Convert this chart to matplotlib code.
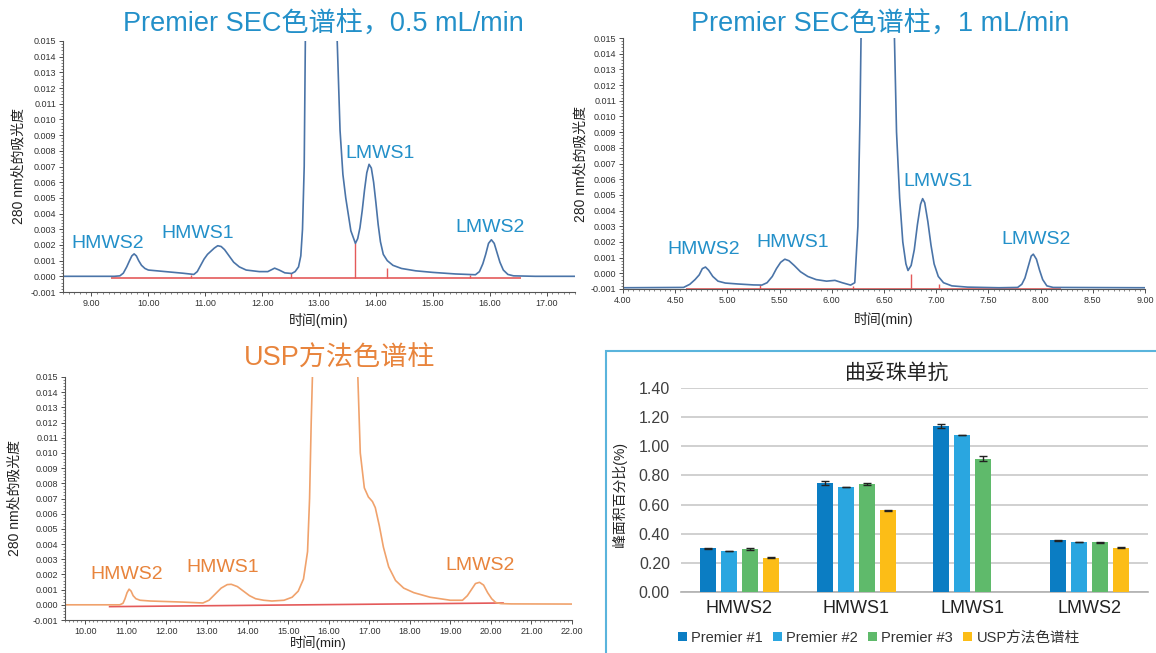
import matplotlib
matplotlib.use('Agg')
import matplotlib.pyplot as plt
import numpy as np
from matplotlib.ticker import MultipleLocator, FormatStrFormatter
from matplotlib.patches import Rectangle

plt.rcParams['font.family'] = ['Liberation Sans', 'Noto Sans CJK SC', 'DejaVu Sans']
plt.rcParams['axes.unicode_minus'] = False

# Premier SEC, 0.5 mL/min trace (time in min, absorbance in AU)
t_05 = [8.50, 9.00, 9.40, 9.50, 9.56, 9.62, 9.67, 9.71, 9.75, 9.79, 9.83, 9.88, 9.94, 10.00,
        10.30, 10.60, 10.80, 10.86, 10.92, 10.98, 11.04, 11.10, 11.16, 11.22, 11.28, 11.34,
        11.42, 11.50, 11.60, 11.72, 11.95, 12.10, 12.22, 12.30, 12.40, 12.52, 12.58, 12.64,
        12.68, 12.71, 12.74, 12.76, 12.79, 13.03, 13.28, 13.32, 13.37, 13.42, 13.47, 13.56,
        13.64, 13.68, 13.72, 13.76, 13.80, 13.84, 13.88, 13.92, 13.96, 14.00, 14.04, 14.08,
        14.13, 14.20, 14.30, 14.45, 14.70, 15.00, 15.40, 15.75, 15.82, 15.88, 15.93, 15.98,
        16.03, 16.08, 16.13, 16.18, 16.24, 16.32, 16.42, 16.80, 17.50]
a_05 = [0.0, 0.0, 0.0, 0.00003, 0.0002, 0.0006, 0.0010, 0.0013, 0.00143, 0.0013, 0.0010,
        0.0007, 0.0005, 0.0004, 0.0003, 0.0002, 0.00012, 0.0003, 0.0007, 0.0011, 0.0014,
        0.0016, 0.0018, 0.00195, 0.0019, 0.0017, 0.0013, 0.0009, 0.0006, 0.0004, 0.0003,
        0.0003, 0.00052, 0.0004, 0.00022, 0.00018, 0.0003, 0.0006, 0.0013, 0.003, 0.007,
        0.015, 0.03, 0.06, 0.03, 0.015, 0.0093, 0.0065, 0.005, 0.0029, 0.0021, 0.0024,
        0.0031, 0.0042, 0.0055, 0.0066, 0.00714, 0.0069, 0.0060, 0.0047, 0.0033, 0.0022,
        0.0014, 0.0010, 0.0007, 0.0005, 0.00035, 0.00025, 0.00015, 0.0001, 0.0003, 0.0008,
        0.0014, 0.0021, 0.00233, 0.0021, 0.0015, 0.0009, 0.0004, 0.00012, 0.00003, 0.0, 0.0]
base_05 = [9.35, 16.55]
drop_05_t = [10.75, 12.50, 13.63, 14.20, 15.65]
drop_05_a = [0.0001, 0.0002, 0.0021, 0.0005, 0.0001]

# Premier SEC, 1 mL/min trace
t_10 = [4.00, 4.58, 4.64, 4.69, 4.73, 4.76, 4.79, 4.82, 4.86, 4.91, 4.98, 5.10, 5.25, 5.33,
        5.38, 5.43, 5.47, 5.51, 5.55, 5.59, 5.64, 5.70, 5.77, 5.85, 5.95, 6.03, 6.10, 6.18,
        6.22, 6.25, 6.27, 6.28, 6.30, 6.45, 6.58, 6.60, 6.62, 6.65, 6.68, 6.71, 6.73, 6.76,
        6.79, 6.82, 6.85, 6.87, 6.89, 6.92, 6.95, 6.98, 7.02, 7.07, 7.15, 7.30, 7.60, 7.78,
        7.82, 7.85, 7.88, 7.91, 7.93, 7.96, 7.99, 8.02, 8.06, 8.12, 9.00]
a_10 = [-0.00092, -0.0009, -0.0007, -0.0004, -0.0001, 0.0003, 0.0004, 0.0002, -0.0002,
        -0.0005, -0.00062, -0.00068, -0.00074, -0.00075, -0.0006, -0.0002, 0.0003, 0.0007,
        0.0009, 0.0008, 0.0005, 0.0001, -0.0002, -0.0004, -0.0005, -0.00045, -0.0006,
        -0.00075, -0.0006, 0.003, 0.010, 0.015, 0.025, 0.06, 0.025, 0.015, 0.009, 0.0048,
        0.002, 0.0006, 0.00018, 0.0005, 0.0015, 0.0031, 0.0044, 0.00476, 0.0045, 0.0033,
        0.0018, 0.0006, -0.0002, -0.0006, -0.0008, -0.00088, -0.00092, -0.0009, -0.0007,
        -0.0003, 0.0004, 0.0011, 0.00122, 0.0009, 0.0002, -0.0004, -0.0008, -0.0009, -0.00092]
base_10 = [4.60, 8.20]
drop_10_t = [5.31, 6.20, 6.76, 7.03]
drop_10_a = [-0.00075, -0.0008, -0.00003, -0.0007]

# USP column trace
t_usp = [9.50, 10.85, 10.93, 10.98, 11.03, 11.08, 11.13, 11.18, 11.25, 11.35, 11.60, 12.40,
         12.90, 13.05, 13.20, 13.35, 13.50, 13.60, 13.75, 13.90, 14.05, 14.20, 14.40, 14.60,
         14.90, 15.10, 15.25, 15.38, 15.48, 15.53, 15.57, 15.60, 15.65, 16.10, 16.65, 16.72,
         16.78, 16.88, 16.98, 17.08, 17.15, 17.25, 17.35, 17.48, 17.65, 17.85, 18.10, 18.50,
         19.00, 19.30, 19.42, 19.52, 19.62, 19.72, 19.82, 19.92, 20.02, 20.12, 20.25, 20.50,
         22.00]
a_usp = [0.0, 0.0, 0.0001, 0.0004, 0.0008, 0.00103, 0.0009, 0.0006, 0.0004, 0.0003, 0.00025,
         0.00018, 0.00012, 0.0003, 0.0007, 0.0011, 0.00133, 0.00135, 0.0012, 0.0009, 0.0006,
         0.0004, 0.0003, 0.00025, 0.0003, 0.0005, 0.0009, 0.0017, 0.0035, 0.007, 0.012, 0.015,
         0.03, 0.06, 0.03, 0.015, 0.010, 0.0077, 0.0071, 0.0068, 0.0064, 0.0052, 0.0038,
         0.0025, 0.0016, 0.0011, 0.0008, 0.0005, 0.0003, 0.0003, 0.0006, 0.0010, 0.0014,
         0.00148, 0.0013, 0.0008, 0.0004, 0.00015, 0.00008, 0.00006, 0.00005]
base_usp_t = [10.60, 20.30]
base_usp_a = [-0.00012, 0.00012]

# peak area percentages (%)
groups = ['HMWS2', 'HMWS1', 'LMWS1', 'LMWS2']
series = ['Premier #1', 'Premier #2', 'Premier #3', 'USP方法色谱柱']
p1 = [0.30, 0.75, 1.14, 0.355]
p2 = [0.28, 0.72, 1.08, 0.34]
p3 = [0.295, 0.74, 0.915, 0.34]
usp = [0.235, 0.56, np.nan, 0.305]
p1_err = [0.005, 0.015, 0.012, 0.005]
p2_err = [0.0, 0.0, 0.0, 0.0]
p3_err = [0.005, 0.008, 0.015, 0.005]
usp_err = [0.003, 0.004, 0.0, 0.003]

W, H = 1156, 653
fig = plt.figure(figsize=(W / 100, H / 100), dpi=100)


def px_axes(l, t, r, b):
    return fig.add_axes([l / W, 1 - b / H, (r - l) / W, (b - t) / H])


def chrom_style(ax, xlim, xmaj, xmin):
    ax.set_ylim(-0.001, 0.015)
    ax.set_xlim(*xlim)
    ax.yaxis.set_major_locator(MultipleLocator(0.001))
    ax.yaxis.set_minor_locator(MultipleLocator(0.0002))
    ax.yaxis.set_major_formatter(FormatStrFormatter('%.3f'))
    ax.xaxis.set_major_locator(MultipleLocator(xmaj))
    ax.xaxis.set_minor_locator(MultipleLocator(xmin))
    ax.xaxis.set_major_formatter(FormatStrFormatter('%.2f'))
    for s in ['top', 'right']:
        ax.spines[s].set_visible(False)
    for s in ['left', 'bottom']:
        ax.spines[s].set_color('#555555')
        ax.spines[s].set_linewidth(0.8)
    ax.tick_params(which='major', length=3, width=0.6, labelsize=6.5, colors='#333333', pad=2)
    ax.tick_params(which='minor', length=1.5, width=0.5, colors='#555555')
    ax.set_ylabel('280 nm处的吸光度', fontsize=10, color='#222222')
    ax.set_xlabel('时间(min)', fontsize=10, color='#222222')


blue_txt = '#2390c9'
blue_line = '#4a74a8'
orange_txt = '#e8843c'
orange_line = '#f0a26c'
red = '#e45a5a'

# ---- top left ----
ax1 = px_axes(63, 41, 575, 292)
chrom_style(ax1, (8.5, 17.5), 1.0, 0.1)
ax1.hlines(-0.00012, base_05[0], base_05[1], color=red, lw=1.2)
ax1.vlines(drop_05_t, -0.00012, drop_05_a, color=red, lw=1.0)
ax1.plot(t_05, a_05, color=blue_line, lw=1.2)
ax1.yaxis.set_label_coords(-0.074, 0.5)
ax1.xaxis.set_label_coords(0.5, -0.085)
lab_05 = [('HMWS2', 9.29, 0.0021), ('HMWS1', 10.87, 0.00276), ('LMWS1', 14.08, 0.00786), ('LMWS2', 16.0, 0.0031)]
for name, x, y in lab_05:
    ax1.text(x, y, name, color=blue_txt, fontsize=14, ha='center', va='center')
fig.text(323 / W, 1 - 25 / H, 'Premier SEC色谱柱，0.5 mL/min', color=blue_txt, fontsize=19.5,
         ha='center', va='center')

# ---- top right ----
ax2 = px_axes(623, 38, 1145, 289)
chrom_style(ax2, (4.0, 9.0), 0.5, 0.05)
ax2.hlines(-0.001, base_10[0], base_10[1], color=red, lw=1.2)
ax2.vlines(drop_10_t, -0.001, drop_10_a, color=red, lw=1.0)
ax2.plot(t_10, a_10, color=blue_line, lw=1.2)
ax2.yaxis.set_label_coords(-0.067, 0.5)
ax2.xaxis.set_label_coords(0.5, -0.09)
lab_10 = [('HMWS2', 4.77, 0.0015), ('HMWS1', 5.63, 0.00195), ('LMWS1', 7.02, 0.00586), ('LMWS2', 7.96, 0.00214)]
for name, x, y in lab_10:
    ax2.text(x, y, name, color=blue_txt, fontsize=14, ha='center', va='center')
fig.text(880 / W, 1 - 25 / H, 'Premier SEC色谱柱，1 mL/min', color=blue_txt, fontsize=19.5,
         ha='center', va='center')

# ---- bottom left ----
ax3 = px_axes(65, 377, 572, 620)
chrom_style(ax3, (9.5, 22.0), 1.0, 0.1)
ax3.plot(base_usp_t, base_usp_a, color=red, lw=1.2)
ax3.plot(t_usp, a_usp, color=orange_line, lw=1.2)
ax3.yaxis.set_label_coords(-0.085, 0.5)
ax3.xaxis.set_label_coords(0.5, -0.062)
ax3.xaxis.label.set_fontsize(9.5)
lab_usp = [('HMWS2', 11.02, 0.00197), ('HMWS1', 13.39, 0.00248), ('LMWS2', 19.74, 0.0026)]
for name, x, y in lab_usp:
    ax3.text(x, y, name, color=orange_txt, fontsize=14, ha='center', va='center')
fig.text(340 / W, 1 - 359 / H, 'USP方法色谱柱', color=orange_txt, fontsize=19.5,
         ha='center', va='center')

# ---- bar chart panel ----
fig.add_artist(Rectangle((606 / W, -0.02), 0.5, 1 - 351 / H + 0.02, transform=fig.transFigure,
                         fill=False, edgecolor='#5ab4dc', lw=1.5))
ax4 = px_axes(681, 388, 1148, 592)
x = np.arange(len(groups))
colors = ['#0b7dc3', '#2aa6e0', '#5fba6b', '#fcbd17']
vals = [p1, p2, p3, usp]
errs = [p1_err, p2_err, p3_err, usp_err]
off = 0.18
for i, (v, e, c, lab) in enumerate(zip(vals, errs, colors, series)):
    xs = x + (i - 1.5) * off
    ax4.bar(xs, v, width=0.138, color=c, label=lab, zorder=3)
    ax4.errorbar(xs, v, yerr=e, fmt='none', ecolor='#222222', elinewidth=1, capsize=3, zorder=4)
ax4.set_xlim(-0.5, 3.5)
ax4.set_ylim(0, 1.4)
ax4.set_yticks(np.arange(0, 1.41, 0.2))
ax4.yaxis.set_major_formatter(FormatStrFormatter('%.2f'))
ax4.set_xticks(x)
ax4.set_xticklabels(groups, fontsize=13, color='#222222')
ax4.tick_params(axis='y', labelsize=11.5, colors='#404040', length=0, pad=8)
ax4.tick_params(axis='x', length=0, pad=6)
ax4.yaxis.grid(True, color='#c8c8c8', lw=1.2, zorder=0)
for s in ['top', 'right', 'left']:
    ax4.spines[s].set_visible(False)
ax4.spines['bottom'].set_color('#b0b0b0')
ax4.spines['bottom'].set_linewidth(1.2)
ax4.set_ylabel('峰面积百分比(%)', fontsize=10, color='#222222')
ax4.yaxis.set_label_coords(-0.115, 0.48)
fig.text(897 / W, 1 - 373 / H, '曲妥珠单抗', fontsize=15, color='#222222', ha='center', va='center')
fig.legend(*ax4.get_legend_handles_labels(), loc='center', bbox_to_anchor=(879 / W, 1 - 638 / H),
           ncol=4, frameon=False, fontsize=10.5, handlelength=0.6, handleheight=0.6,
           handletextpad=0.3, columnspacing=0.7, labelcolor='#333333')

fig.savefig('out.png', dpi=100)
